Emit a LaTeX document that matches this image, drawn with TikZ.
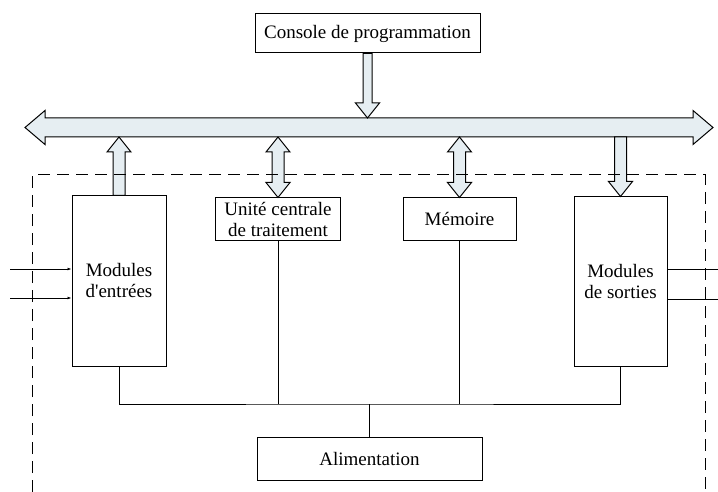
\documentclass[tikz,border=0pt]{standalone}
\usepackage{fontspec}
\setmainfont{Liberation Serif}
\usetikzlibrary{calc,arrows.meta}
\definecolor{busfill}{RGB}{230,238,242}
\tikzset{
  box/.style={draw, line width=1pt, fill=white, inner sep=0pt, align=center},
  fat/.style={draw, line width=1pt, fill=busfill, line join=miter},
  wire/.style={line width=1pt},
  frame/.style={line width=1pt, dash pattern=on 12pt off 7pt},
}
% fat arrow from #2 to the tip #3, #4 = signed head length, #1 = half shaft
\newcommand{\fatarrow}[4][6]{%
  \draw[fat] ($(#2)+(-#1,0)$) -- ($(#3)+(-#1,#4)$) -- ($(#3)+(-12,#4)$) -- (#3)
    -- ($(#3)+(12,#4)$) -- ($(#3)+(#1,#4)$) -- ($(#2)+(#1,0)$) -- cycle;}
% fat double arrow, #1 upper tip, #2 lower tip
\newcommand{\fatboth}[2]{%
  \draw[fat] (#1) -- ($(#1)+(12,15)$) -- ($(#1)+(6,15)$) -- ($(#2)+(6,-15)$)
    -- ($(#2)+(12,-15)$) -- (#2) -- ($(#2)+(-12,-15)$) -- ($(#2)+(-6,-15)$)
    -- ($(#1)+(-6,15)$) -- ($(#1)+(-12,15)$) -- cycle;}

\begin{document}
\begin{tikzpicture}[x=1pt, y=-1pt, every node/.style={font=\fontsize{19}{21}\selectfont}]
  \useasboundingbox (0,0) rectangle (718,492);
  % blocks
  \node[box, minimum width=225, minimum height=39] (console) at (367.5,33.5) {Console de programmation};
  \node[box, minimum width=94, minimum height=170] (in) at (119,281) {Modules\\d\textquotesingle entrées};
  \node[box, minimum width=93, minimum height=169] (out) at (620.5,281.5) {Modules\\de sorties};
  \node[box, minimum width=125, minimum height=42] (cpu) at (278,219) {Unité centrale\\de traitement};
  \node[box, minimum width=113, minimum height=42] (mem) at (459.5,219) {Mémoire};
  \node[box, minimum width=225, minimum height=43] (alim) at (369.5,458.5) {Alimentation};

  % bus
  \coordinate (busL) at (25,127.5);
  \coordinate (busR) at (713,127.5);
  \coordinate (bustop) at (0,118);
  \coordinate (busbot) at (0,137);
  \draw[fat] (busL) -- ($(busL)+(20,-17)$) -- ($(busL)+(20,-9.5)$) -- ($(busR)+(-20,-9.5)$)
    -- ($(busR)+(-20,-17)$) -- (busR) -- ($(busR)+(-20,17)$) -- ($(busR)+(-20,9.5)$)
    -- ($(busL)+(20,9.5)$) -- ($(busL)+(20,17)$) -- cycle;

  \fatarrow[4.5]{console.south}{console.south |- bustop}{-15}
  \fatarrow{in.north}{in.north |- busbot}{15}
  \fatarrow{out.north |- busbot}{out.north}{-15}
  \fatboth{cpu.north |- busbot}{cpu.north}
  \fatboth{mem.north |- busbot}{mem.north}

  % power lines
  \coordinate (pw) at (369.5,404);
  \draw[wire] (in.south) |- (pw) -| (out.south);
  \draw[wire] (cpu.south) -- (cpu.south |- pw);
  \draw[wire] (mem.south) -- (mem.south |- pw);
  \draw[wire] (alim.north) -- (pw);

  % inputs and outputs
  \coordinate (e1) at (10,269);
  \coordinate (e2) at (10,298);
  \coordinate (s1) at (718,269);
  \coordinate (s2) at (718,299);
  \draw[wire, -{Latex[length=4pt,width=3pt]}] (e1) -- (e1 -| in.west);
  \draw[wire, -{Latex[length=4pt,width=3pt]}] (e2) -- (e2 -| in.west);
  \draw[wire] (out.east |- s1) -- (s1);
  \draw[wire] (out.east |- s2) -- (s2);

  % PLC frame
  \draw[frame] (32,492) |- (705,175) -- (705,492);
\end{tikzpicture}
\end{document}
